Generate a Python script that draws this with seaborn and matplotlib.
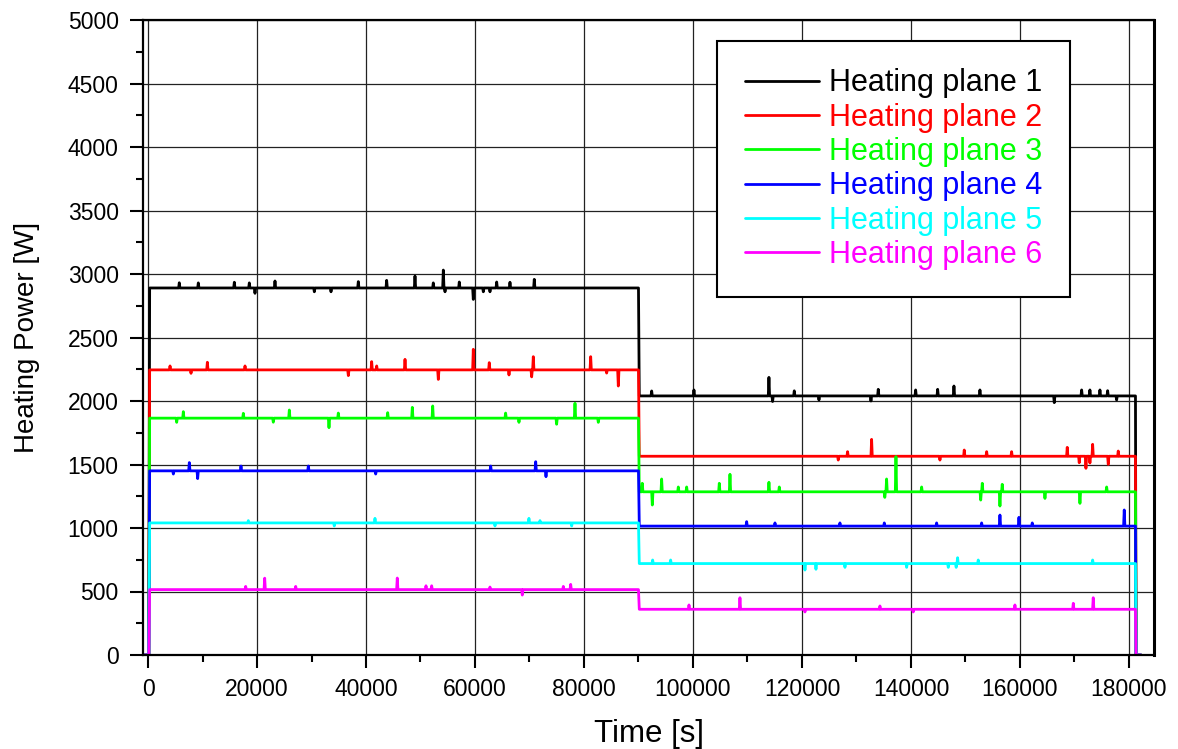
import numpy as np
import pandas as pd
import matplotlib
matplotlib.use("Agg")
import matplotlib.pyplot as plt
import seaborn as sns
from matplotlib.ticker import MultipleLocator

# ---- data -------------------------------------------------------------
planes = ["Heating plane 1", "Heating plane 2", "Heating plane 3",
          "Heating plane 4", "Heating plane 5", "Heating plane 6"]
colors = ["#000000", "#FF0000", "#00FF00", "#0000FF", "#00FFFF", "#FF00FF"]

# switching times [s]
t_start = -700
t_on = 300
t_switch = 90000
t_off = 181200
t_end = 182200

# steady heating power of each plane in the two periods [W]
level_high = [2890, 2245, 1865, 1450, 1040, 515]
level_low = [2040, 1565, 1285, 1015, 720, 360]

# short excursions of the measured power: time [s] and power [W]
spike_t_1 = [5740, 9230, 15840, 18590, 19630, 23300, 30520, 33580, 38590, 43790,
             48990, 52350, 54190, 54500, 57120, 59690, 61530, 62750, 63980, 66420,
             70880, 92420, 100180, 113940, 114610, 118590, 123120, 132660, 134000,
             140860, 144900, 147890, 152660, 166300, 171320, 172840, 174680,
             176090, 177740]
spike_w_1 = [2931, 2930, 2935, 2930, 2848, 2945, 2860, 2860, 2940, 2950,
             2984, 2930, 3031, 2860, 2937, 2800, 2860, 2860, 2937, 2935,
             2958, 2079, 2087, 2186, 1996, 2080, 2008, 2000, 2092,
             2087, 2092, 2118, 2087, 1987, 2087, 2087, 2087,
             2081, 2008]

spike_t_2 = [4040, 7890, 10890, 17800, 36760, 41040, 41960, 47160, 53270, 59690,
             62620, 66240, 70400, 70700, 81230, 84160, 86300, 126660, 128370,
             132780, 145320, 149780, 153890, 158470, 168680, 170880, 172110,
             172840, 173340, 176210, 178040]
spike_w_2 = [2276, 2218, 2305, 2276, 2200, 2310, 2276, 2328, 2170, 2407,
             2302, 2205, 2190, 2349, 2349, 2220, 2118, 1535, 1601,
             1698, 1535, 1614, 1601, 1601, 1635, 1514, 1470,
             1512, 1659, 1501, 1606]

spike_t_3 = [5260, 6480, 17490, 22990, 25930, 33210, 34920, 43980, 48500, 52240,
             65620, 68070, 74980, 78350, 82630, 90700, 92540, 94250, 97310, 98840,
             104830, 106790, 113940, 115840, 135200, 135530, 137250, 141960,
             152800, 153090, 156330, 156750, 164590, 171010, 175910]
spike_w_3 = [1832, 1916, 1903, 1833, 1929, 1790, 1905, 1908, 1950, 1961,
             1905, 1832, 1817, 1982, 1832, 1352, 1181, 1386, 1323, 1323,
             1352, 1423, 1360, 1323, 1241, 1386, 1562, 1323,
             1220, 1352, 1173, 1344, 1233, 1194, 1323]

spike_t_4 = [4650, 7580, 9110, 17060, 29420, 41780, 62880, 71140, 73030, 109850,
             115050, 126970, 135110, 144710, 152970, 156330, 159820, 162260, 179140]
spike_w_4 = [1425, 1515, 1389, 1488, 1488, 1425, 1488, 1522, 1404, 1050,
             1040, 1040, 1040, 1040, 1040, 1102, 1084, 1040, 1142]

spike_t_5 = [18410, 34180, 41650, 63670, 69900, 71930, 77740, 92600, 95900, 120550,
             122570, 127890, 139210, 146850, 148300, 148560, 152350, 173340]
spike_w_5 = [1058, 1016, 1076, 1016, 1076, 1058, 1016, 748, 748, 669,
             675, 690, 690, 690, 690, 766, 748, 748]

spike_t_6 = [17920, 21410, 27100, 45740, 51010, 52050, 62750, 68680, 76210, 77560,
             99270, 108620, 120550, 134310, 140420, 159080, 169790, 173450]
spike_w_6 = [540, 605, 540, 606, 545, 545, 535, 472, 540, 556,
             394, 451, 339, 386, 339, 394, 407, 451]

spike_times = [spike_t_1, spike_t_2, spike_t_3, spike_t_4, spike_t_5, spike_t_6]
spike_powers = [spike_w_1, spike_w_2, spike_w_3, spike_w_4, spike_w_5, spike_w_6]

# ---- assemble the time series -----------------------------------------
half_width = 120  # s, half duration of an excursion
frames = []
for name, hi, lo, st, sw in zip(planes, level_high, level_low,
                                spike_times, spike_powers):
    pts = [(t_start, 0), (t_on - 150, 0), (t_on, hi), (t_switch, hi),
           (t_switch + 150, lo), (t_off, lo), (t_off + 100, 0), (t_end, 0)]
    for t, w in zip(st, sw):
        base = hi if t < t_switch else lo
        pts += [(t - half_width, base), (t, w), (t + half_width, base)]
    pts.sort(key=lambda p: p[0])
    frames.append(pd.DataFrame({"time": [p[0] for p in pts],
                                "power": [p[1] for p in pts],
                                "plane": name}))
df = pd.concat(frames, ignore_index=True)

# ---- figure -----------------------------------------------------------
sns.set_theme(style="ticks")
plt.rcParams["font.family"] = ["Liberation Sans", "DejaVu Sans"]

fig = plt.figure(figsize=(11.78, 7.49), dpi=100)
ax = fig.add_axes([143 / 1178, 1 - 655 / 749, (1154 - 143) / 1178, (655 - 20) / 749])

sns.lineplot(data=df, x="time", y="power", hue="plane", hue_order=planes,
             palette=colors, estimator=None, sort=False, linewidth=2.0,
             ax=ax, legend=True)

ax.set_xlim(-920, 184600)
ax.set_ylim(0, 5000)
ax.xaxis.set_major_locator(MultipleLocator(20000))
ax.xaxis.set_minor_locator(MultipleLocator(10000))
ax.yaxis.set_major_locator(MultipleLocator(500))
ax.yaxis.set_minor_locator(MultipleLocator(250))
ax.grid(True, which="major", color="#222222", linewidth=0.9)
ax.set_axisbelow(True)

ax.tick_params(axis="both", which="major", direction="out", length=9.5,
               width=1.5, labelsize=16.5, color="black", labelcolor="black")
ax.tick_params(axis="both", which="minor", direction="out", length=5,
               width=1.5, color="black")
ax.tick_params(axis="x", which="major", pad=7)
ax.tick_params(axis="y", which="major", pad=8)

for side in ["left", "bottom", "right", "top"]:
    ax.spines[side].set_visible(True)
    ax.spines[side].set_color("black")
    ax.spines[side].set_linewidth(1.6)
ax.spines["right"].set_linewidth(2.2)

ax.set_xlabel("Time [s]", fontsize=22.5, labelpad=13, color="black")
ax.set_ylabel("Heating Power [W]", fontsize=20, labelpad=20, color="black")

handles, labels = ax.get_legend_handles_labels()
leg = ax.legend(handles, labels, loc="upper left",
                bbox_to_anchor=(717 / 1178, 1 - 41 / 749),
                bbox_transform=fig.transFigure, borderaxespad=0,
                fontsize=22, frameon=True, fancybox=False, shadow=False,
                framealpha=1, edgecolor="black", handlelength=2.45,
                handletextpad=0.32, labelspacing=0.14, borderpad=0.9,
                labelcolor="linecolor")
leg.get_frame().set_linewidth(1.5)
for line in leg.get_lines():
    line.set_linewidth(2.0)

fig.savefig("out.png", dpi=100)
